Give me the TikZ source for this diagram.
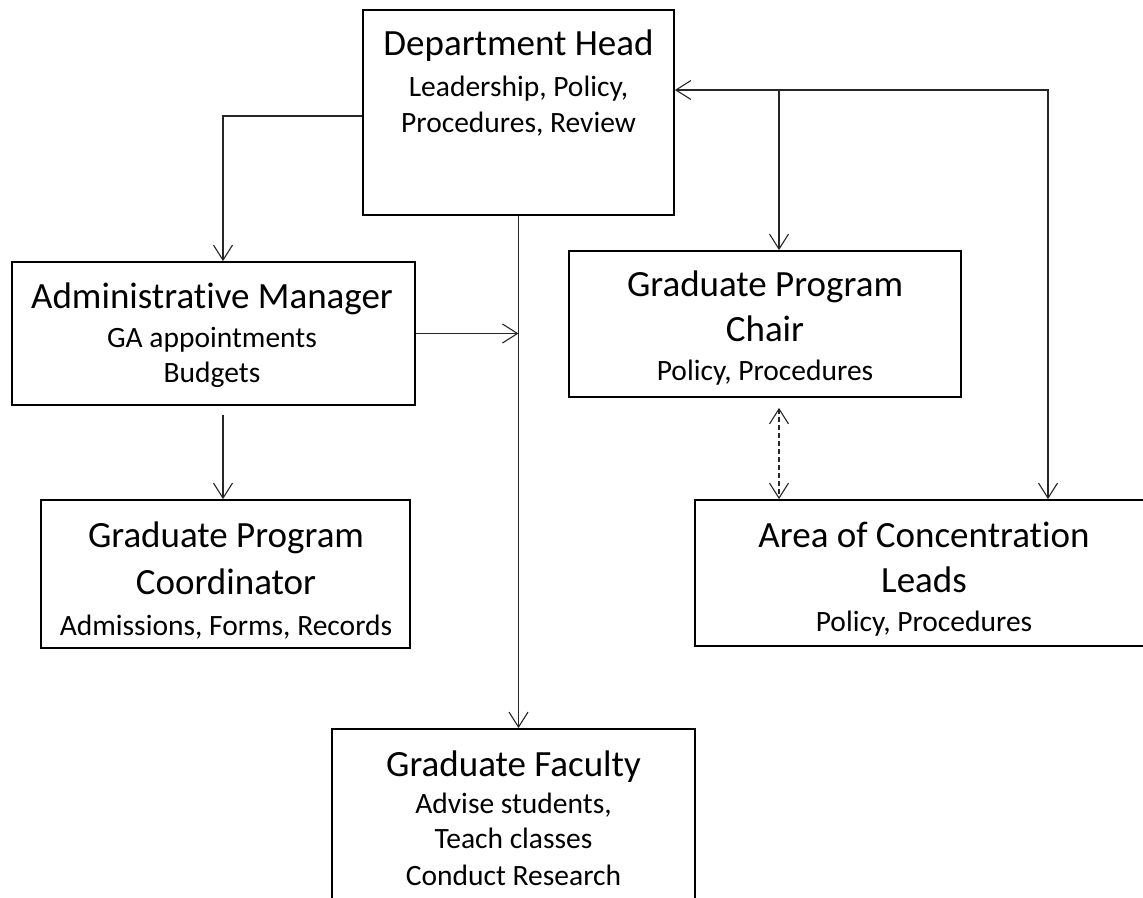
\documentclass[tikz,border=0pt]{standalone}
\usepackage{fontspec}
\setmainfont{Carlito}[Ligatures=NoCommon]
\usetikzlibrary{arrows.meta}

\tikzset{
  orgbox/.style={draw=black, line width=1.8pt, rectangle, inner sep=0pt},
  conn/.style={draw=black!85, line width=1.1pt},
  barb/.tip={Straight Barb[length=15pt, width=19pt, line width=1.1pt]},
  ttl/.style={anchor=base, inner sep=0pt, font=\fontsize{37pt}{40pt}\selectfont},
  sub/.style={anchor=base, inner sep=0pt, font=\fontsize{29.5pt}{32pt}\selectfont},
}

\begin{document}
\begin{tikzpicture}[x=1pt, y=-1pt]
  \useasboundingbox (0,0) rectangle (1143,897);
  \fill[white] (0,0) rectangle (1143,897);
  \clip (0,0) rectangle (1143,897);

  % boxes
  \node[orgbox, minimum width=311pt, minimum height=205pt] (dh)    at (518.5,112.5) {};
  \node[orgbox, minimum width=403pt, minimum height=143pt] (am)    at (213.5,333.5) {};
  \node[orgbox, minimum width=369pt, minimum height=148pt] (gpc)   at (225.5,574)   {};
  \node[orgbox, minimum width=392pt, minimum height=146pt] (chair) at (765,324)     {};
  \node[orgbox, minimum width=458pt, minimum height=146pt] (acl)   at (924,573)     {};
  \node[orgbox, minimum width=363pt, minimum height=200pt] (gf)    at (513.5,829)   {};

  % box texts
  \node[ttl] (dh-1) at (518.5,55)  {Department Head};
  \node[sub] (dh-2) at (518.5,96)  {Leadership, Policy,};
  \node[sub] (dh-3) at (518.5,132) {Procedures, Review};

  \node[ttl] (am-1) at (212,308) {Administrative Manager};
  \node[sub] (am-2) at (212,347) {GA appointments};
  \node[sub] (am-3) at (212,382) {Budgets};

  \node[ttl] (gpc-1) at (226,547) {Graduate Program};
  \node[ttl] (gpc-2) at (226,594) {Coordinator};
  \node[sub] (gpc-3) at (226,635) {Admissions, Forms, Records};

  \node[ttl] (chair-1) at (765,296) {Graduate Program};
  \node[ttl] (chair-2) at (765,341) {Chair};
  \node[sub] (chair-3) at (765,380) {Policy, Procedures};

  \node[ttl] (acl-1) at (924,547) {Area of Concentration};
  \node[ttl] (acl-2) at (924,592) {Leads};
  \node[sub] (acl-3) at (924,631) {Policy, Procedures};

  \node[ttl] (gf-1) at (513.5,776) {Graduate Faculty};
  \node[sub] (gf-2) at (513.5,813) {Advise students,};
  \node[sub] (gf-3) at (513.5,848) {Teach classes};
  \node[sub] (gf-4) at (513.5,885) {Conduct Research};

  % connector junctions
  \coordinate (rc) at (1048,90);
  \coordinate (br) at (779,90);

  % Department Head -> Administrative Manager
  \draw[conn, -{barb}] ([yshift=-3.5pt]dh.west) -| ([xshift=9.5pt]am.north);
  % Department Head -> Graduate Faculty
  \draw[conn, -{barb}] (dh.south) -- (dh.south |- gf.north);
  % Administrative Manager -> faculty line
  \draw[conn, -{barb}] (am.east) -- (am.east -| dh.south);
  % Administrative Manager -> Coordinator
  \draw[conn, -{barb}] ([xshift=9.5pt, yshift=-9pt]am.south) -- ([xshift=-2.5pt]gpc.north);
  % Area leads <-> Department Head, branch to Program Chair
  \draw[conn, {barb}-{barb}] (dh.east |- rc) -- (rc) -- (rc |- acl.north);
  \draw[conn, -{barb}] (br) -- (br |- chair.north);
  % Program Chair <-> Area leads
  \draw[conn, dash pattern=on 5pt off 3pt, {barb}-{barb}] ([yshift=-10pt]chair.south -| br) -- (br |- acl.north);
\end{tikzpicture}
\end{document}
